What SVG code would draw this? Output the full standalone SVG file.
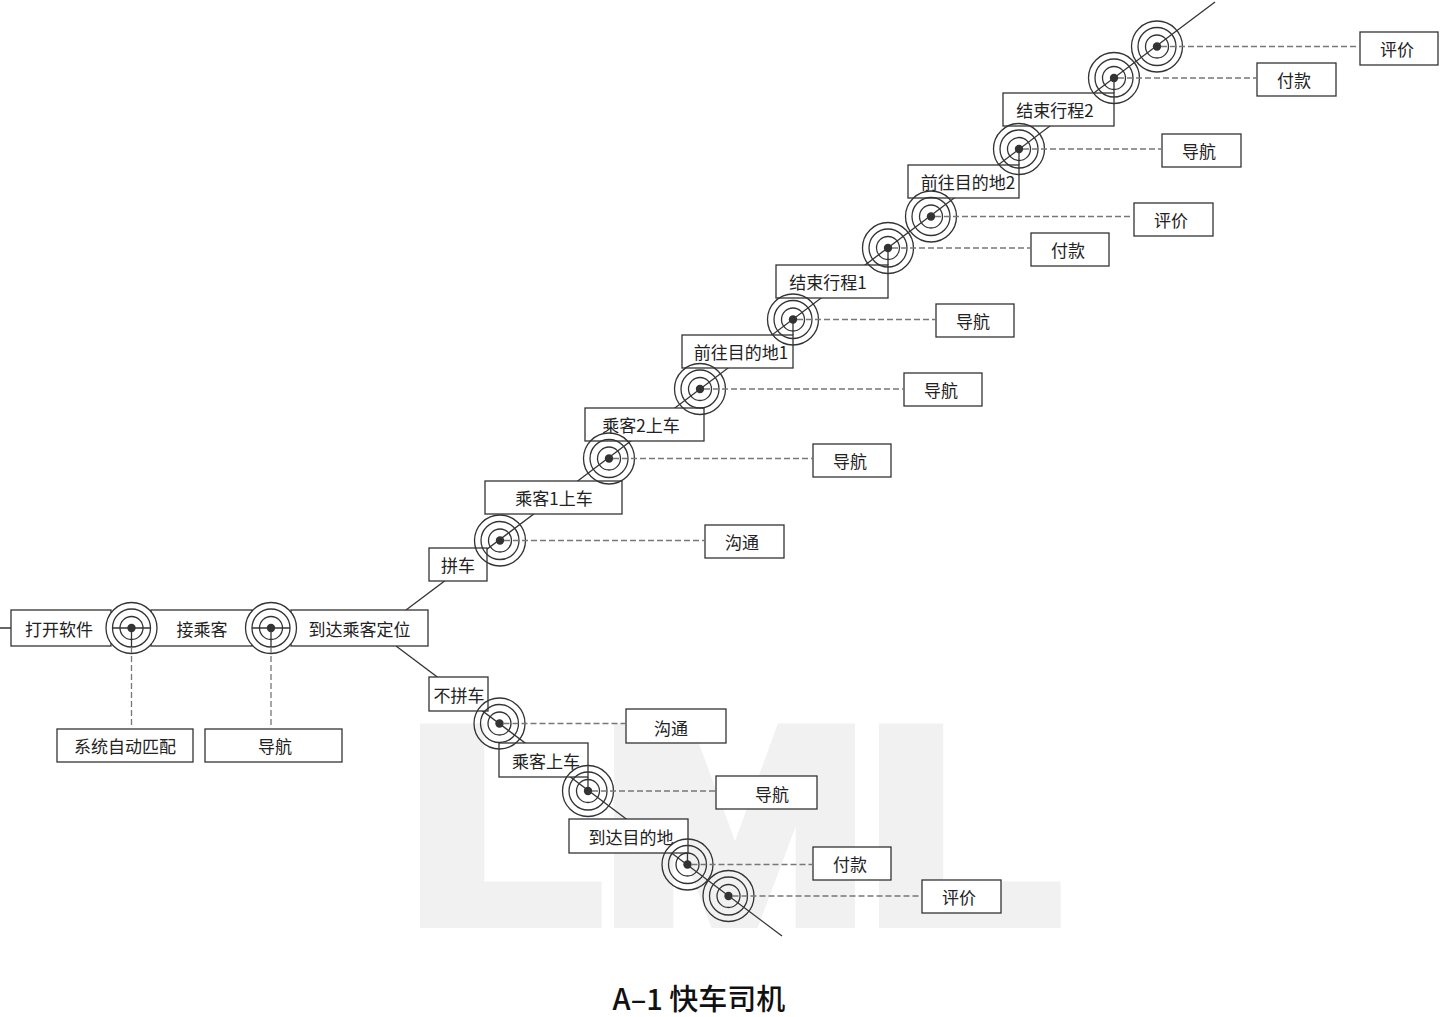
<svg xmlns="http://www.w3.org/2000/svg" width="1440" height="1017" viewBox="0 0 1440 1017">
<style>
.bg{fill:#ffffff}
.wm{font-family:"Liberation Sans",Arial,sans-serif;font-weight:700;fill:#f1f1f1;stroke:#f1f1f1;stroke-width:16;stroke-linejoin:miter}
.box{fill:#ffffff;stroke:#333333;stroke-width:1.3}
.t{font-family:"Noto Sans CJK SC","Noto Sans",sans-serif;font-size:17px;fill:#222222;text-anchor:middle;dominant-baseline:central}
.ring{fill:none;stroke:#333333;stroke-width:1.3}
.ringw{fill:#ffffff;stroke:#333333;stroke-width:1.3}
.dot{fill:#333333}
.flow{stroke:#333333;stroke-width:1.3;fill:none}
.dash{stroke:#777777;stroke-width:1.3;stroke-dasharray:6 3;fill:none}
.title{font-family:"Noto Sans CJK SC","Noto Sans",sans-serif;font-size:29px;font-weight:500;fill:#111111;text-anchor:middle}
</style>
<defs>
<g id="target">
<circle r="25.5" class="ring"/>
<circle r="19" class="ring"/>
<circle r="11.5" class="ring"/>
<circle r="4.2" class="dot"/>
</g>
<g id="targetw">
<circle r="25.5" class="ringw"/>
<circle r="19" class="ring"/>
<circle r="11.5" class="ring"/>
<line x1="-19" y1="0" x2="19" y2="0" class="flow"/>
<line x1="0" y1="0" x2="0" y2="19" class="flow"/>
<circle r="4.2" class="dot"/>
</g>
</defs>
<rect class="bg" x="0" y="0" width="1440" height="1017"/>
<g id="watermark" transform="translate(408,920) scale(1.16,1)">
<text class="wm" x="0" y="0" font-size="274">LML</text>
</g>

<g id="flow-lines">
<line class="flow" x1="0" y1="628" x2="428" y2="628"/>
<line class="flow" x1="406" y1="610" x2="1215" y2="2"/>
<line class="flow" x1="396" y1="646" x2="782" y2="936"/>
</g>

<g id="boxes">
<g id="box-open"><rect class="box" x="11" y="610" width="100" height="36"/><text class="t" x="59" y="628">打开软件</text></g>
<g id="box-pickup"><rect class="box" x="151" y="610" width="101" height="36"/><text class="t" x="202" y="628">接乘客</text></g>
<g id="box-arrive"><rect class="box" x="291" y="610" width="137" height="36"/><text class="t" x="359.5" y="628">到达乘客定位</text></g>
<g id="box-match"><rect class="box" x="57" y="729" width="136" height="33"/><text class="t" x="125" y="745.5">系统自动匹配</text></g>
<g id="box-nav0"><rect class="box" x="205" y="729" width="137" height="33"/><text class="t" x="275" y="745.5">导航</text></g>

<g id="box-pool"><rect class="box" x="429" y="548" width="58" height="33"/><text class="t" x="458" y="564.5">拼车</text></g>
<g id="box-p1"><rect class="box" x="485" y="481" width="137" height="33"/><text class="t" x="554" y="497.5">乘客1上车</text></g>
<g id="box-p2"><rect class="box" x="585" y="408" width="119" height="33"/><text class="t" x="641" y="424.5">乘客2上车</text></g>
<g id="box-go1"><rect class="box" x="682" y="335" width="111" height="33"/><text class="t" x="741" y="351.5">前往目的地1</text></g>
<g id="box-end1"><rect class="box" x="776" y="265" width="112" height="33"/><text class="t" x="828" y="281.5">结束行程1</text></g>
<g id="box-go2"><rect class="box" x="908" y="165" width="111" height="33"/><text class="t" x="968" y="181.5">前往目的地2</text></g>
<g id="box-end2"><rect class="box" x="1003" y="93" width="111" height="33"/><text class="t" x="1055" y="109.5">结束行程2</text></g>

<g id="box-nopool"><rect class="box" x="429" y="677" width="59" height="34"/><text class="t" x="459" y="694">不拼车</text></g>
<g id="box-pin"><rect class="box" x="499" y="743" width="89" height="34"/><text class="t" x="546" y="760">乘客上车</text></g>
<g id="box-dest"><rect class="box" x="569" y="819" width="119" height="34"/><text class="t" x="631" y="836">到达目的地</text></g>

<g id="box-r1"><rect class="box" x="705" y="525" width="79" height="33"/><text class="t" x="742" y="541.5">沟通</text></g>
<g id="box-r2"><rect class="box" x="813" y="444" width="78" height="33"/><text class="t" x="850" y="460.5">导航</text></g>
<g id="box-r3"><rect class="box" x="904" y="373" width="78" height="33"/><text class="t" x="941" y="389.5">导航</text></g>
<g id="box-r4"><rect class="box" x="936" y="304" width="78" height="33"/><text class="t" x="973" y="320.5">导航</text></g>
<g id="box-r5"><rect class="box" x="1031" y="233" width="78" height="33"/><text class="t" x="1068" y="249.5">付款</text></g>
<g id="box-r6"><rect class="box" x="1134" y="203" width="79" height="33"/><text class="t" x="1171" y="219.5">评价</text></g>
<g id="box-r7"><rect class="box" x="1162" y="134" width="79" height="33"/><text class="t" x="1199" y="150.5">导航</text></g>
<g id="box-r8"><rect class="box" x="1257" y="63" width="79" height="33"/><text class="t" x="1294" y="79.5">付款</text></g>
<g id="box-r9"><rect class="box" x="1360" y="32" width="78" height="33"/><text class="t" x="1397" y="48.5">评价</text></g>

<g id="box-d1"><rect class="box" x="626" y="709" width="100" height="34"/><text class="t" x="671" y="727">沟通</text></g>
<g id="box-d2"><rect class="box" x="716" y="776" width="101" height="33"/><text class="t" x="772" y="793.5">导航</text></g>
<g id="box-d3"><rect class="box" x="813" y="847" width="78" height="33"/><text class="t" x="850" y="863.5">付款</text></g>
<g id="box-d4"><rect class="box" x="922" y="880" width="79" height="33"/><text class="t" x="959" y="896.5">评价</text></g>
</g>

<g id="nodes">
<g id="n-h1"><use href="#targetw" x="131.5" y="628"/></g>
<g id="n-h2"><use href="#targetw" x="271" y="628"/></g>
<g id="n-u1"><use href="#target" x="500" y="540.5"/></g>
<g id="n-u2"><use href="#target" x="609" y="458.5"/></g>
<g id="n-u3"><use href="#target" x="700" y="389"/></g>
<g id="n-u4"><use href="#target" x="793" y="319.5"/><line class="flow" x1="793" y1="319.5" x2="793" y2="335"/></g>
<g id="n-u5"><use href="#target" x="888" y="248"/><line class="flow" x1="888" y1="248" x2="888" y2="265"/></g>
<g id="n-u6"><use href="#target" x="931" y="216.5"/></g>
<g id="n-u7"><use href="#target" x="1019" y="149"/><line class="flow" x1="1019" y1="149" x2="1019" y2="165"/></g>
<g id="n-u8"><use href="#target" x="1114" y="78"/><line class="flow" x1="1114" y1="78" x2="1114" y2="93"/></g>
<g id="n-u9"><use href="#target" x="1157" y="46.5"/></g>
<g id="n-d1"><use href="#target" x="499.5" y="723.5"/></g>
<g id="n-d2"><use href="#target" x="588" y="791"/><line class="flow" x1="588" y1="777" x2="588" y2="791"/></g>
<g id="n-d3"><use href="#target" x="687.5" y="864.5"/><line class="flow" x1="687.5" y1="853" x2="687.5" y2="864.5"/></g>
<g id="n-d4"><use href="#target" x="728.5" y="896"/></g>
</g>

<g id="connectors">
<line class="dash" x1="131.5" y1="647" x2="131.5" y2="729"/>
<line class="dash" x1="271" y1="647" x2="271" y2="729"/>
<line class="dash" x1="504" y1="540.5" x2="705" y2="540.5"/>
<line class="dash" x1="613" y1="458.5" x2="813" y2="458.5"/>
<line class="dash" x1="704" y1="389" x2="904" y2="389"/>
<line class="dash" x1="797" y1="319.5" x2="936" y2="319.5"/>
<line class="dash" x1="892" y1="248" x2="1031" y2="248"/>
<line class="dash" x1="935" y1="216.5" x2="1134" y2="216.5"/>
<line class="dash" x1="1023" y1="149" x2="1162" y2="149"/>
<line class="dash" x1="1118" y1="78" x2="1257" y2="78"/>
<line class="dash" x1="1161" y1="46.5" x2="1360" y2="46.5"/>
<line class="dash" x1="503.5" y1="723.5" x2="626" y2="723.5"/>
<line class="dash" x1="592" y1="791" x2="716" y2="791"/>
<line class="dash" x1="691.5" y1="864.5" x2="813" y2="864.5"/>
<line class="dash" x1="732.5" y1="896" x2="922" y2="896"/>
</g>

<text id="title" class="title" x="699" y="1010">A–1 快车司机</text>
</svg>
